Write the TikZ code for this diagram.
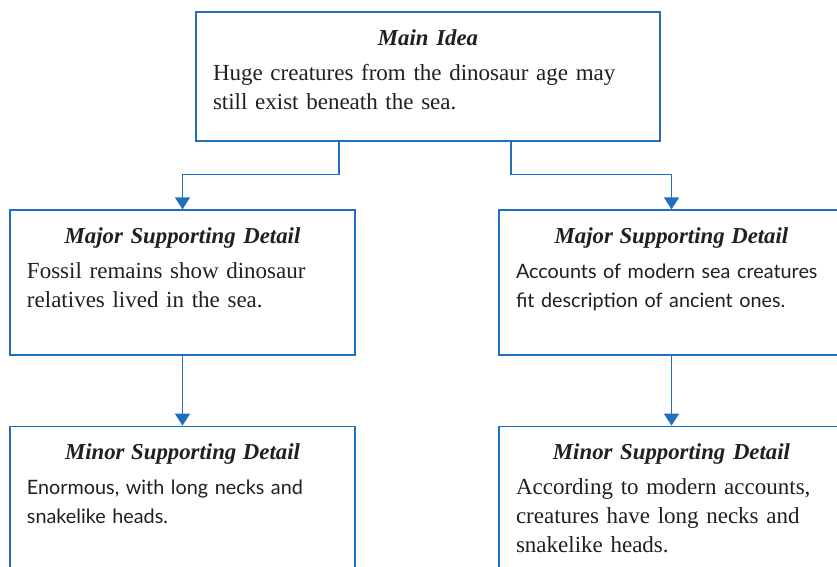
\documentclass[tikz,border=0pt]{standalone}
\usepackage{fontspec}
\setmainfont{Liberation Serif}
\newfontfamily\handfont{Lato}
\usetikzlibrary{arrows.meta, positioning}
\definecolor{lineblue}{RGB}{31,111,190}
\definecolor{ink}{RGB}{35,31,32}
\newcommand{\headline}[1]{{\centering\rmfamily\fontsize{22.8}{26}\selectfont\bfseries\itshape #1\par}\vspace{6pt}}

\begin{document}
\begin{tikzpicture}
[x=1pt, y=1pt,
box/.style={draw=lineblue, line width=1.3pt, fill=white, inner sep=0pt},
majorbox/.style={box, minimum width=345pt, minimum height=145pt},
minorbox/.style={box, minimum width=345pt, minimum height=170pt},
txt/.style={text=ink, align=left, inner sep=0pt, anchor=north, text width=311pt,
            font=\fontsize{23}{29}\selectfont},
hand/.style={txt, font=\handfont\fontsize{19.8}{29}\selectfont},
conn/.style={draw=lineblue, line width=1.3pt, -{Triangle[width=15pt, length=12pt]}}
]
    \useasboundingbox (0,0) rectangle (837,-566);
    \clip (0,0) rectangle (837,-566);

    \node[box, minimum width=464pt, minimum height=129pt] (main) at (428,-76.5) {};
    \node[majorbox] (majorL) at (182.5,-282.5) {};
    \node[majorbox] (majorR) at (671.5,-282.5) {};
    \node[minorbox, below=70pt of majorL] (minorL) {};
    \node[minorbox, below=70pt of majorR] (minorR) {};

    \node[txt, text width=430pt, below=18pt of main.north] (mainText)
        {\headline{Main Idea}Huge creatures from the dinosaur age may\\still exist beneath the sea.};
    \node[txt, below=18pt of majorL.north] (majorLText)
        {\headline{Major Supporting Detail}Fossil remains show dinosaur\\relatives lived in the sea.};
    \node[hand, below=18pt of majorR.north] (majorRText)
        {\headline{Major Supporting Detail}Accounts of modern sea creatures\\fit description of ancient ones.};
    \node[hand, below=18pt of minorL.north] (minorLText)
        {\headline{Minor Supporting Detail}Enormous, with long necks and\\snakelike heads.};
    \node[txt, below=18pt of minorR.north] (minorRText)
        {\headline{Minor Supporting Detail}According to modern accounts,\\creatures have long necks and\\snakelike heads.};

    \coordinate (forkL) at ([xshift=-89pt]main.south);
    \coordinate (forkR) at ([xshift=83pt]main.south);
    \draw[conn] (forkL) -- ++(0,-33) -| (majorL.north);
    \draw[conn] (forkR) -- ++(0,-33) -| (majorR.north);
    \draw[conn] (majorL) -- (minorL);
    \draw[conn] (majorR) -- (minorR);
\end{tikzpicture}
\end{document}
